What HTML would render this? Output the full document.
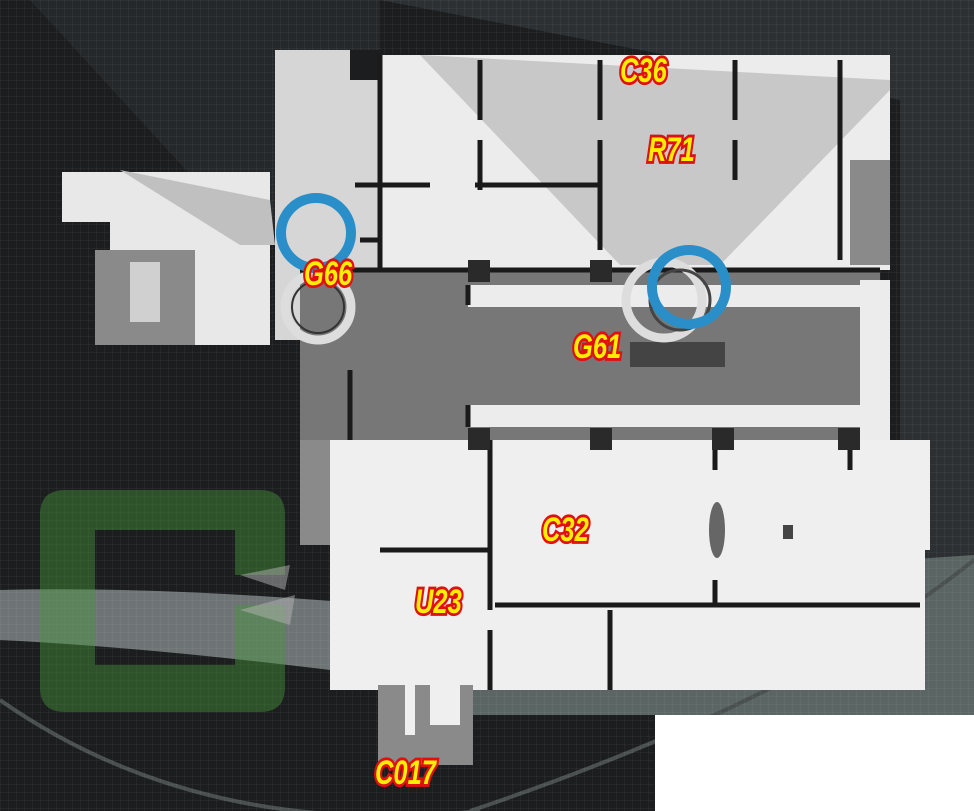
<!DOCTYPE html>
<html><head><meta charset="utf-8"><style>
html,body{margin:0;padding:0;background:#1a1c1d;}
svg{display:block;}
text{font-family:"Liberation Sans",sans-serif;font-weight:bold;font-style:italic;font-size:30px;fill:#ffee00;stroke:#e01010;stroke-width:5px;paint-order:stroke;}
</style></head><body>
<svg width="974" height="811" viewBox="0 0 974 811" xmlns="http://www.w3.org/2000/svg">
<defs>
<pattern id="g" width="8" height="8" patternUnits="userSpaceOnUse"><rect x="0" y="0" width="8" height="1" fill="rgba(255,255,255,0.04)"/><rect x="0" y="0" width="1" height="8" fill="rgba(255,255,255,0.04)"/></pattern>
</defs>
<rect width="974" height="811" fill="#1b1d1e"/>
<polygon points="380,0 974,0 974,560 900,560 900,100" fill="#2c3032"/>
<polygon points="30,0 380,0 380,200 250,240" fill="#25282a"/>
<path d="M0,590 Q200,585 480,615 L480,690 Q200,650 0,640 Z" fill="#6e7475"/>
<path d="M900,560 L974,555 L974,715 L470,715 L470,690 L900,690 Z" fill="#5b6564"/>
<path d="M0,700 Q200,840 480,811" stroke="#4a5050" stroke-width="4" fill="none"/>
<path d="M470,811 Q800,700 974,560" stroke="#4a5050" stroke-width="4" fill="none"/>
<rect width="974" height="811" fill="url(#g)"/>

<rect x="62" y="172" width="208" height="50" fill="#e8e8e8"/>
<rect x="110" y="222" width="160" height="30" fill="#e8e8e8"/>
<rect x="95" y="250" width="100" height="95" fill="#8a8a8a"/>
<rect x="195" y="250" width="75" height="95" fill="#e8e8e8"/>
<rect x="130" y="262" width="30" height="60" fill="#d0d0d0"/>
<rect x="275" y="50" width="105" height="290" fill="#d6d6d6"/>
<rect x="350" y="50" width="30" height="30" fill="#1b1d1e"/>
<rect x="380" y="55" width="510" height="215" fill="#ececec"/>
<polygon points="420,55 890,80 890,90 720,265 620,265" fill="#c8c8c8"/>
<polygon points="120,170 270,200 275,245 240,245" fill="#c0c0c0"/>
<rect x="850" y="160" width="40" height="105" fill="#8a8a8a"/>
<rect x="300" y="270" width="580" height="170" fill="#777"/>
<rect x="468" y="285" width="412" height="22" fill="#ececec"/>
<rect x="468" y="405" width="412" height="22" fill="#ececec"/>
<rect x="860" y="280" width="30" height="190" fill="#ececec"/>
<rect x="630" y="342" width="95" height="25" fill="#444"/>
<rect x="300" y="440" width="30" height="105" fill="#8a8a8a"/>
<rect x="330" y="440" width="595" height="250" fill="#efefef"/>
<rect x="330" y="440" width="600" height="110" fill="#efefef"/>
<rect x="376" y="550" width="115" height="140" fill="#efefef"/>
<rect x="378" y="685" width="95" height="80" fill="#8a8a8a"/>
<rect x="405" y="685" width="10" height="50" fill="#efefef"/>
<rect x="430" y="685" width="30" height="40" fill="#efefef"/>
<g stroke="#1a1a1a" stroke-width="5" fill="none">
<path d="M380,55 V270 M480,60 V120 M480,140 V190 M600,60 V120 M600,140 V250 M735,60 V120 M735,140 V180 M840,60 V260"/>
<path d="M355,185 H430 M475,185 H600 M360,240 H380"/>
<path d="M300,270 H880 M468,285 V305 M468,405 V427"/>
<path d="M490,440 V610 M490,630 V690 M495,605 H920 M610,610 V690 M715,440 V470 M715,580 V605 M850,440 V470"/>
<path d="M380,550 H490 M350,370 V440"/>
</g>
<g fill="#2a2a2a">
<rect x="468" y="260" width="22" height="22"/><rect x="590" y="260" width="22" height="22"/>
<rect x="468" y="428" width="22" height="22"/><rect x="590" y="428" width="22" height="22"/><rect x="712" y="428" width="22" height="22"/><rect x="838" y="428" width="22" height="22"/>
<ellipse cx="717" cy="530" rx="8" ry="28" fill="#666"/><rect x="783" y="525" width="10" height="14" fill="#444"/>
</g>
<circle cx="318" cy="307" r="33" fill="none" stroke="#ddd" stroke-width="9"/>
<circle cx="318" cy="307" r="26" fill="none" stroke="#333" stroke-width="2"/>
<circle cx="664" cy="300" r="38" fill="none" stroke="#ddd" stroke-width="9"/>
<circle cx="680" cy="300" r="30" fill="none" stroke="#444" stroke-width="3"/>
<circle cx="316" cy="233" r="35" fill="none" stroke="#2a8fc8" stroke-width="10"/>
<circle cx="689" cy="287" r="37" fill="none" stroke="#2a8fc8" stroke-width="10"/>
<path d="M285,515 Q285,490 260,490 H65 Q40,490 40,515 V687 Q40,712 65,712 H260 Q285,712 285,687 V605 H235 V665 H95 V530 H235 V575 H285 Z" fill="rgba(70,150,60,0.45)"/>
<polygon points="240,575 290,565 285,590" fill="rgba(180,180,180,0.5)"/>
<polygon points="240,610 295,595 290,625" fill="rgba(180,180,180,0.5)"/>
<rect x="655" y="715" width="319" height="96" fill="#ffffff"/>
<g font-size="32">
<text transform="translate(620,82) scale(0.85,1.15)">C36</text>
<text transform="translate(648,161) scale(0.85,1.15)">R71</text>
<text transform="translate(304,285) scale(0.85,1.15)">G66</text>
<text transform="translate(573,358) scale(0.85,1.15)">G61</text>
<text transform="translate(542,541) scale(0.85,1.15)">C32</text>
<text transform="translate(415,613) scale(0.85,1.15)">U23</text>
<text transform="translate(375,784) scale(0.85,1.15)">C017</text>
</g>
</svg>
</body></html>
